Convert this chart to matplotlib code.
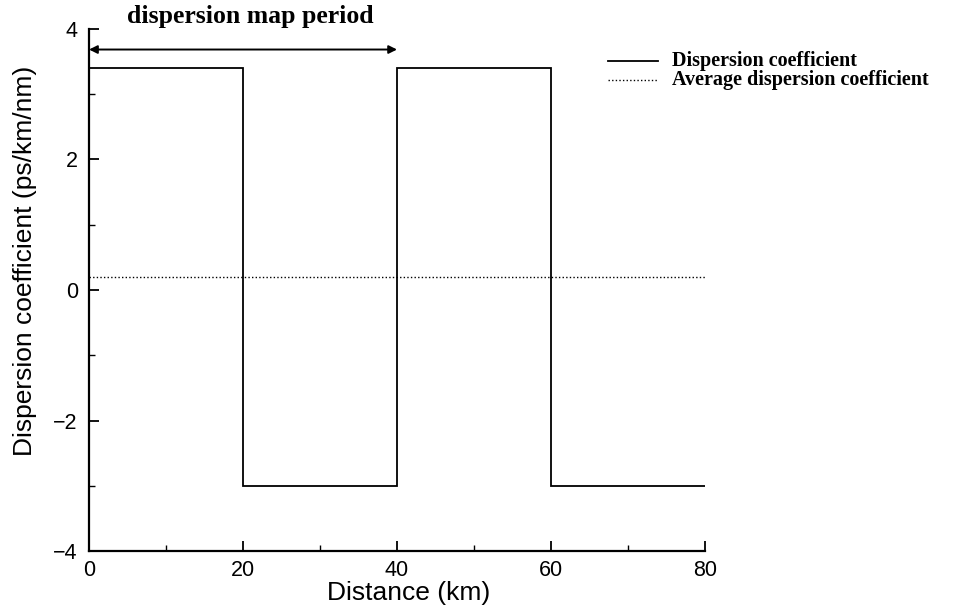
import matplotlib
matplotlib.use("Agg")
import matplotlib.pyplot as plt
from matplotlib.lines import Line2D
from matplotlib.ticker import MultipleLocator

# Dispersion map: segment boundaries (km) and dispersion of each segment
segment_edges = [0, 20, 40, 60, 80]
segment_dispersion = [3.4, -3.0, 3.4, -3.0]
average_dispersion = 0.2
map_period = [0, 40]

x_ticks = [0, 20, 40, 60, 80]
y_ticks = [-4, -2, 0, 2, 4]

sans = ["Liberation Sans", "DejaVu Sans"]
serif = ["Liberation Serif", "DejaVu Serif"]

fig = plt.figure(figsize=(9.70, 6.14), dpi=100)
ax = fig.add_axes([0.0918, 0.1020, 0.6350, 0.8514])

ax.stairs(segment_dispersion, segment_edges, baseline=None,
          color="black", lw=1.3)
ax.plot([segment_edges[0], segment_edges[-1]],
        [average_dispersion, average_dispersion],
        color="black", lw=1.0, linestyle=(0, (1, 1.6)))

ax.set_xlim(0, 80)
ax.set_ylim(-4, 4)
ax.set_xticks(x_ticks)
ax.set_yticks(y_ticks)
ax.set_xticklabels([str(v) for v in x_ticks], family=sans, fontsize=15.5)
ax.set_yticklabels([str(v).replace("-", "\u2212") for v in y_ticks],
                   family=sans, fontsize=15.5)
ax.xaxis.set_minor_locator(MultipleLocator(10))
ax.yaxis.set_minor_locator(MultipleLocator(1))
ax.tick_params(which="major", direction="in", length=7, width=1.3, pad=8)
ax.tick_params(axis="x", which="major", pad=6)
ax.tick_params(which="minor", direction="in", length=4, width=1.0)

for side in ("top", "right"):
    ax.spines[side].set_visible(False)
for side in ("left", "bottom"):
    ax.spines[side].set_linewidth(1.6)

ax.set_xlabel("Distance (km)", family=sans, fontsize=19)
ax.set_ylabel("Dispersion coefficient (ps/km/nm)", family=sans, fontsize=19)
ax.xaxis.set_label_coords(0.519, -0.056)
ax.yaxis.set_label_coords(-0.084, 0.555)

# Double-headed arrow marking one dispersion map period
ax.annotate("", xy=(map_period[1], 3.68), xytext=(map_period[0], 3.68),
            arrowprops=dict(arrowstyle="<|-|>", color="black", lw=1.4,
                            mutation_scale=12, shrinkA=0, shrinkB=0),
            annotation_clip=False)
ax.text(20.9, 4.18, "dispersion map period", family=serif,
        fontweight="bold", fontsize=18.5, ha="center", va="center",
        clip_on=False)

# Legend drawn in figure pixels to the right of the axes
W, H = 970, 614
legend_rows = [("Dispersion coefficient", "-", 1.3, 61),
               ("Average dispersion coefficient", (0, (1, 1.6)), 1.0, 80)]
for label, ls, lw, ypx in legend_rows:
    fig.add_artist(Line2D([608 / W, 658 / W], [1 - ypx / H, 1 - ypx / H],
                          color="black", lw=lw, linestyle=ls))
    fig.text(672 / W, 1 - ypx / H, label, family=serif, fontweight="bold",
             fontsize=14.5, ha="left", va="center")

fig.savefig("out.png", dpi=100)
